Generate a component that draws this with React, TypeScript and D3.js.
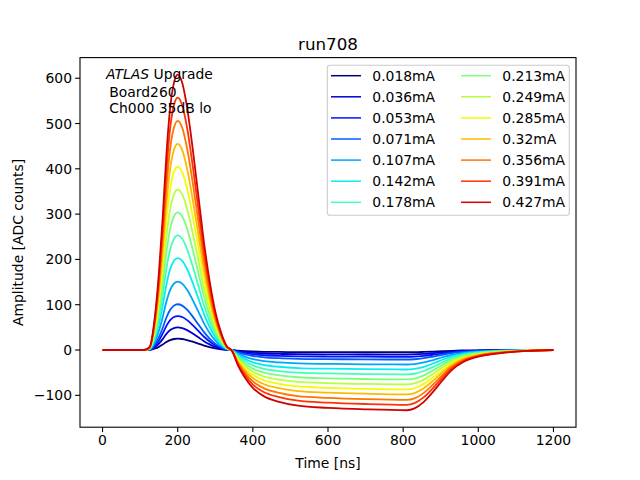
import React from 'react';
import * as d3 from 'd3';

// sample times [ns] shared by every pulse
const times = [0, 110, 125, 140, 150, 160, 170, 180, 190, 200, 212, 225, 240, 255, 270, 285, 300, 315, 330,
  345, 360, 380, 400, 430, 470, 520, 600, 700, 810, 830, 855, 880, 905, 930, 960, 1000, 1060, 1130, 1200];

const currents = ['0.018mA', '0.036mA', '0.053mA', '0.071mA', '0.107mA', '0.142mA', '0.178mA',
  '0.213mA', '0.249mA', '0.285mA', '0.32mA', '0.356mA', '0.391mA', '0.427mA'];

// amplitudes [ADC counts]
const s018 = [0, 0, 0.3, 3.3, 7, 12, 17.8, 22, 24.3, 25, 24.3, 22, 18.3, 14, 9.8, 6.3, 3.5, 1.6, 0.4,
  -0.1, -1.3, -2.4, -3.2, -3.9, -4.3, -4.6, -4.8, -4.9, -5, -4.9, -4.3, -3.5, -2.5, -1.7, -1, -0.6, -0.3, -0.1, 0];
const s036 = [0, 0, 0.5, 6.5, 14, 24, 35.5, 44, 48.5, 50, 48.5, 44, 36.5, 28, 19.5, 12.5, 7, 3.3, 0.8,
  -0.2, -2.5, -4.7, -6.3, -7.7, -8.6, -9.3, -9.6, -9.9, -10, -9.7, -8.6, -6.9, -5, -3.3, -2, -1.1, -0.5, -0.2, 0];
const s053 = [0, 0, 0.8, 9.8, 21, 36, 53.3, 66, 72.8, 75, 72.8, 66, 54.8, 42, 29.3, 18.8, 10.5, 4.9, 1.1,
  -0.3, -3.8, -7.1, -9.5, -11.6, -12.9, -13.9, -14.4, -14.8, -15, -14.6, -12.9, -10.4, -7.5, -5, -3, -1.7, -0.8, -0.2, 0];
const s071 = [0, 0, 1, 13.1, 28.3, 48.5, 71.7, 88.9, 98, 101, 98, 88.9, 73.7, 56.6, 39.4, 25.3, 14.1, 6.6, 1.5,
  -0.4, -5.3, -9.9, -13.2, -16.2, -18.1, -19.4, -20.2, -20.7, -21, -20.4, -18.1, -14.5, -10.5, -6.9, -4.2, -2.3, -1.1, -0.3, 0];
const s107 = [0, 0, 1.5, 19.6, 42.3, 72.5, 107.2, 132.9, 146.5, 151, 146.5, 132.9, 110.2, 84.6, 58.9, 37.8, 21.1, 9.8, 2.3,
  -0.6, -8, -15, -20.2, -24.6, -27.5, -29.6, -30.7, -31.5, -32, -31, -27.5, -22.1, -16, -10.6, -6.4, -3.5, -1.6, -0.5, 0];
const s142 = [0, 0, 2, 26.4, 56.8, 97.4, 144.1, 178.6, 196.9, 203, 196.9, 178.6, 148.2, 113.7, 79.2, 50.8, 28.4, 13.2, 3,
  -0.9, -10.8, -20.2, -27.1, -33.1, -37, -39.8, -41.3, -42.4, -43, -41.7, -37, -29.7, -21.5, -14.2, -8.6, -4.7, -2.2, -0.6, 0];
const s178 = [0, 0, 2.5, 32.9, 70.8, 121.4, 179.6, 222.6, 245.4, 253, 245.4, 222.6, 184.7, 141.7, 98.7, 63.3, 35.4, 16.4, 3.8,
  -1.1, -13.5, -25.4, -34, -41.6, -46.4, -50, -51.8, -53.2, -54, -52.4, -46.4, -37.3, -27, -17.8, -10.8, -5.9, -2.7, -0.8, 0];
const s213 = [0, 0, 3, 39.5, 85.1, 145.9, 215.8, 267.5, 294.9, 304, 294.9, 267.5, 221.9, 170.2, 118.6, 76, 42.6, 19.8, 4.6,
  -1.3, -16.3, -30.6, -41, -50, -55.9, -60.1, -62.4, -64, -65, -63, -55.9, -44.9, -32.5, -21.5, -13, -7.2, -3.3, -1, 0];
const s249 = [0, 0, 3.5, 46, 99.1, 169.9, 251.3, 311.5, 343.4, 354, 343.4, 311.5, 258.4, 198.2, 138.1, 88.5, 49.6, 23, 5.3,
  -1.5, -19, -35.7, -47.9, -58.5, -65.4, -70.3, -73, -74.9, -76, -73.7, -65.4, -52.4, -38, -25.1, -15.2, -8.4, -3.8, -1.1, 0];
const s285 = [0, 0, 4, 52.7, 113.4, 194.4, 287.6, 356.4, 392.9, 405, 392.9, 356.4, 295.7, 226.8, 158, 101.3, 56.7, 26.3, 6.1,
  -1.7, -21.8, -40.9, -54.8, -67, -74.8, -80.5, -83.5, -85.7, -87, -84.4, -74.8, -60, -43.5, -28.7, -17.4, -9.6, -4.4, -1.3, 0];
const s320 = [0, 0, 4.6, 59.2, 127.4, 218.4, 323.1, 400.4, 441.4, 455, 441.4, 400.4, 332.2, 254.8, 177.5, 113.8, 63.7, 29.6, 6.8,
  -2, -24.5, -46.1, -61.7, -75.5, -84.3, -90.7, -94.1, -96.5, -98, -95.1, -84.3, -67.6, -49, -32.3, -19.6, -10.8, -4.9, -1.5, 0];
const s356 = [0, 0, 5.1, 65.8, 141.7, 242.9, 359.3, 445.3, 490.8, 506, 490.8, 445.3, 369.4, 283.4, 197.3, 126.5, 70.8, 32.9, 7.6,
  -2.2, -27.5, -51.7, -69.3, -84.7, -94.6, -101.8, -105.6, -108.4, -110, -106.7, -94.6, -75.9, -55, -36.3, -22, -12.1, -5.5, -1.7, 0];
const s391 = [0, 0, 5.6, 72.4, 156, 267.4, 395.5, 490.2, 540.3, 557, 540.3, 490.2, 406.6, 311.9, 217.2, 139.3, 78, 36.2, 8.4,
  -2.4, -30.3, -56.9, -76.2, -93.2, -104.1, -111.9, -116.2, -119.2, -121, -117.4, -104.1, -83.5, -60.5, -39.9, -24.2, -13.3, -6.1, -1.8, 0];
const s427 = [0, 0, 6.1, 79, 170.2, 291.8, 431.7, 535, 589.8, 608, 589.8, 535, 443.8, 340.5, 237.1, 152, 85.1, 39.5, 9.1,
  -2.7, -33.3, -62.5, -83.8, -102.4, -114.4, -123, -127.7, -131, -133, -129, -114.4, -91.8, -66.5, -43.9, -26.6, -14.6, -6.7, -2, 0];

const series = [s018, s036, s053, s071, s107, s142, s178, s213, s249, s285, s320, s356, s391, s427];

const xTicks = [0, 200, 400, 600, 800, 1000, 1200];
const yTicks = [-100, 0, 100, 200, 300, 400, 500, 600];

const W = 640;
const H = 480;
const left = 80, right = 576, top = 57.6, bottom = 427.2;
const font = 'DejaVu Sans, sans-serif';

// matplotlib 'jet' colormap
function jet(v: number): string {
  const seg = (pts: number[][]) => {
    for (let i = 1; i < pts.length; i++) {
      if (v <= pts[i][0]) {
        const [x0, y0] = pts[i - 1];
        const [x1, y1] = pts[i];
        return y0 + (y1 - y0) * (v - x0) / (x1 - x0);
      }
    }
    return pts[pts.length - 1][1];
  };
  const r = seg([[0, 0], [0.35, 0], [0.66, 1], [0.89, 1], [1, 0.5]]);
  const g = seg([[0, 0], [0.125, 0], [0.375, 1], [0.64, 1], [0.91, 0], [1, 0]]);
  const b = seg([[0, 0.5], [0.11, 1], [0.34, 1], [0.65, 0], [1, 0]]);
  return d3.rgb(r * 255, g * 255, b * 255).formatHex();
}

const fmt = (v: number) => (v < 0 ? '\u2212' + Math.abs(v) : String(v));

export default function App() {
  const x = d3.scaleLinear().domain([-60, 1260]).range([left, right]);
  const y = d3.scaleLinear().domain([-170.4, 645.5]).range([bottom, top]);
  const line = d3.line<number>()
    .x((_, i) => x(times[i]))
    .y(d => y(d))
    .curve(d3.curveMonotoneX);

  const legX = [331, 461];
  const legY0 = 75.7;
  const legDy = 21.1;

  return (
    <svg width={W} height={H} style={{ position: 'absolute', left: 0, top: 0, background: '#fff' }}
      fontFamily={font}>
      <rect x={0} y={0} width={W} height={H} fill="#fff" />
      {series.map((s, i) => (
        <path key={i} d={line(s) || ''} fill="none" stroke={jet(i / 14)} strokeWidth={1.8}
          strokeLinejoin="round" />
      ))}
      <rect x={left} y={top} width={right - left} height={bottom - top} fill="none" stroke="#000" strokeWidth={1.1} />

      {xTicks.map(t => (
        <g key={t}>
          <line x1={x(t)} x2={x(t)} y1={bottom} y2={bottom + 4.9} stroke="#000" strokeWidth={1.1} />
          <text x={x(t)} y={bottom + 18} textAnchor="middle" fontSize={13.9}>{fmt(t)}</text>
        </g>
      ))}
      {yTicks.map(t => (
        <g key={t}>
          <line x1={left - 4.9} x2={left} y1={y(t)} y2={y(t)} stroke="#000" strokeWidth={1.1} />
          <text x={left - 8} y={y(t)} dy="0.36em" textAnchor="end" fontSize={13.9}>{fmt(t)}</text>
        </g>
      ))}

      <text x={(left + right) / 2} y={468} textAnchor="middle" fontSize={13.9}>Time [ns]</text>
      <text transform={`translate(18,${(top + bottom) / 2}) rotate(-90)`} dy="0.36em" textAnchor="middle"
        fontSize={13.9}>Amplitude [ADC counts]</text>
      <text x={(left + right) / 2} y={49.5} textAnchor="middle" fontSize={16.7}>run708</text>

      <text x={106} y={74} dy="0.36em" fontSize={13.9}>
        <tspan fontStyle="italic">ATLAS</tspan> Upgrade
      </text>
      <text x={109.3} y={91.5} dy="0.36em" fontSize={13.9}>Board260</text>
      <text x={109.3} y={108.3} dy="0.36em" fontSize={13.9}>Ch000 35dB lo</text>

      <rect x={327.3} y={65.3} width={242} height={150} rx={2.8} fill="#fff" fillOpacity={0.8}
        stroke="#cccccc" strokeWidth={1.1} />
      {currents.map((c, i) => {
        const col = i < 7 ? 0 : 1;
        const row = i % 7;
        const ly = legY0 + row * legDy;
        const lx = legX[col];
        return (
          <g key={c}>
            <line x1={lx} x2={lx + 30} y1={ly} y2={ly} stroke={jet(i / 14)} strokeWidth={1.5} />
            <text x={lx + 41.3} y={ly} dy="0.36em" fontSize={13.9}>{c}</text>
          </g>
        );
      })}
    </svg>
  );
}
